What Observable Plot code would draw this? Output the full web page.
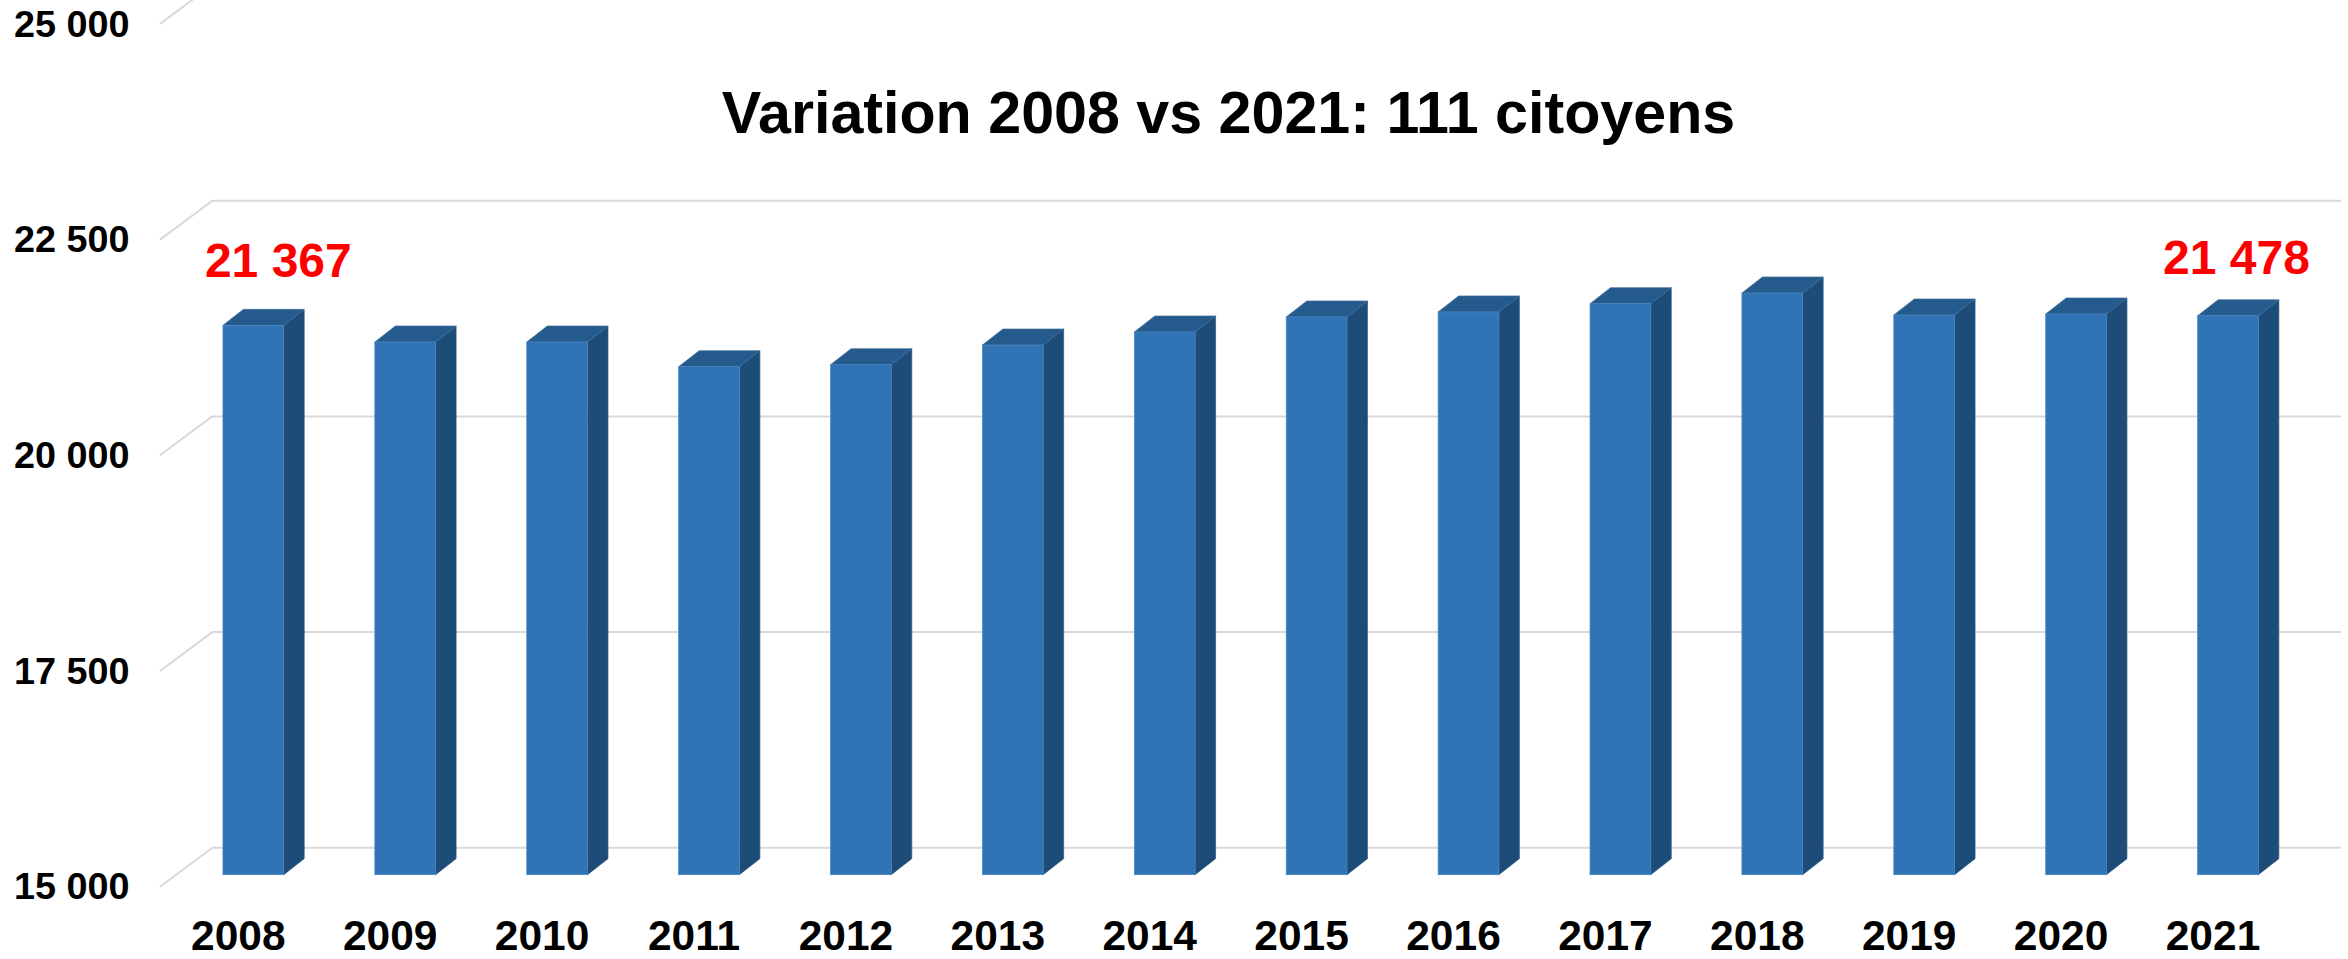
<!DOCTYPE html>
<html>
<head>
<meta charset="utf-8">
<script src="https://cdn.jsdelivr.net/npm/d3@7"></script>
<script src="https://cdn.jsdelivr.net/npm/@observablehq/plot@0.6"></script>
<style>
html,body{margin:0;padding:0;background:#fff}
svg{display:block}
</style>
</head>
<body>
<div id="chart"></div>
<script>
const years = [2008,2009,2010,2011,2012,2013,2014,2015,2016,2017,2018,2019,2020,2021];
const citizens = [21367,21174,21174,20888,20911,21139,21290,21464,21522,21618,21742,21487,21499,21478];
const yTicks = [15000,17500,20000,22500,25000];
const yTickLabels = ["15 000","17 500","20 000","22 500","25 000"];
const titleText = "Variation 2008 vs 2021: 111 citoyens";
const firstLabel = {year:"2008", value:21367, label:"21 367"};
const lastLabel = {year:"2021", value:21478, label:"21 478"};

const FONT = "'Liberation Sans', Arial, sans-serif";
const BAR_PADDING = 0.6;
const rows = years.map((year,i)=>({year:String(year), value:citizens[i]}));

// Oblique faces and wall diagonals are derived from the chart's own scales.
const depth = {dx:20.5, dy:-16};
const wall = {front:-53, back:0, frontDy:12, backDy:-27.4};

function walls(index, {y}, values, {marginLeft}) {
  const g = d3.create("svg:g").attr("fill","none").attr("stroke","#d9d9d9").attr("stroke-width",2);
  for (const t of yTicks) {
    g.append("line")
      .attr("x1", marginLeft + wall.front).attr("y1", y(t) + wall.frontDy)
      .attr("x2", marginLeft + wall.back).attr("y2", y(t) + wall.backDy);
  }
  return g.node();
}

function faces(index, {x, y}) {
  const g = d3.create("svg:g").attr("stroke-width",0.7).attr("stroke-linejoin","round");
  const bw = (x(rows[1].year) - x(rows[0].year)) * (1 - BAR_PADDING);
  const base = y(15000);
  for (const r of rows) {
    const l = x(r.year), rgt = l + bw, t = y(r.value);
    g.append("polygon")
      .attr("points", [[rgt,base],[rgt+depth.dx,base+depth.dy],[rgt+depth.dx,t+depth.dy],[rgt,t]].join(" "))
      .attr("fill","#1e4c78").attr("stroke","#2f5d87");
    g.append("polygon")
      .attr("points", [[l,t],[l+depth.dx,t+depth.dy],[rgt+depth.dx,t+depth.dy],[rgt,t]].join(" "))
      .attr("fill","#245a8c").attr("stroke","#3f6f9c");
  }
  return g.node();
}

const redLabel = (d, dx, dy) => Plot.text([d], {x:"year", y:"value", text:"label", dx, dy, lineAnchor:"bottom",
  fill:"#ff0000", fontSize:48, fontWeight:700, fontFamily:FONT});

const chart = Plot.plot({
  width: 2348,
  height: 959,
  marginTop: 11.9,
  marginBottom: 84.3,
  marginLeft: 213,
  marginRight: 7,
  style: {background:"#fff", fontFamily:FONT},
  x: {type:"band", domain:rows.map(d=>d.year), range:[131.8,2349.5], padding:BAR_PADDING, round:false, label:null},
  y: {type:"linear", domain:[15000,25000], range:[874.7,11.9], label:null},
  marks: [
    Plot.ruleY(yTicks, {stroke:"#d9d9d9", strokeWidth:2, dy:wall.backDy}),
    walls,
    faces,
    Plot.barY(rows, {x:"year", y1:15000, y2:"value", fill:"#3074b6", stroke:"#4b86c0", strokeWidth:0.7}),
    Plot.axisY({ticks:yTicks, tickFormat:d=>yTickLabels[yTicks.indexOf(d)], tickSize:0, tickPadding:84, dy:12,
      fontSize:37.8, fontWeight:700, fill:"#000", label:null, fontFamily:FONT}),
    Plot.axisX({tickSize:0, tickPadding:45, dx:-15.5, fontSize:42.5, fontWeight:700, fill:"#000", label:null, fontFamily:FONT}),
    redLabel(firstLabel, 24.5, -48.8),
    redLabel(lastLabel, 8, -42.5),
    Plot.text([titleText], {frameAnchor:"top-left", dx:1015, dy:120.8, lineAnchor:"bottom", textAnchor:"middle",
      fill:"#000", fontSize:59.2, fontWeight:700, fontFamily:FONT})
  ]
});
document.getElementById("chart").append(chart);
</script>
</body>
</html>
